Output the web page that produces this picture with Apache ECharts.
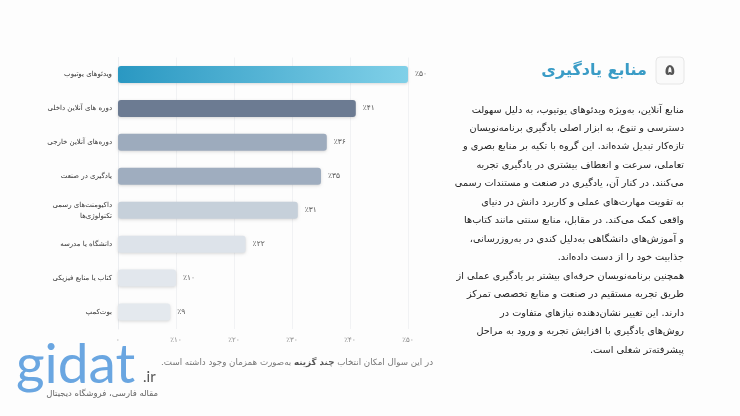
<!DOCTYPE html>
<html><head><meta charset="utf-8">
<script src="https://cdn.jsdelivr.net/npm/echarts@6/dist/echarts.min.js"></script>
<style>html,body{margin:0;padding:0;background:#fdfdfd}#c{width:740px;height:416px}</style>
</head><body><div id="c"></div>
<script>
var categories = ['ویدئوهای یوتیوب','دوره های آنلاین داخلی','دوره‌های آنلاین خارجی','یادگیری در صنعت','داکیومنت‌های رسمی\nتکنولوژی‌ها','دانشگاه یا مدرسه','کتاب یا منابع فیزیکی','بوت‌کمپ'];
var values = [50, 41, 36, 35, 31, 22, 10, 9];
var barColors = [null, '#6c7b92', '#9dabbd', '#9fadbf', '#c6d0da', '#dde3ea', '#e2e7ed', '#e4e9ee'];
var tickLabels = ['۰','٪۱۰','٪۲۰','٪۳۰','٪۴۰','٪۵۰'];
var valueLabels = ['٪۵۰','٪۴۱','٪۳۶','٪۳۵','٪۳۱','٪۲۲','٪۱۰','٪۹'];
var titleText = 'منابع یادگیری';
var sectionNumber = '۵';
var paragraphLines = [
 'منابع آنلاین، به‌ویژه ویدئوهای یوتیوب، به دلیل سهولت',
 'دسترسی و تنوع، به ابزار اصلی یادگیری برنامه‌نویسان',
 'تازه‌کار تبدیل شده‌اند. این گروه با تکیه بر منابع بصری و',
 'تعاملی، سرعت و انعطاف بیشتری در یادگیری تجربه',
 'می‌کنند. در کنار آن، یادگیری در صنعت و مستندات رسمی',
 'به تقویت مهارت‌های عملی و کاربرد دانش در دنیای',
 'واقعی کمک می‌کند. در مقابل، منابع سنتی مانند کتاب‌ها',
 'و آموزش‌های دانشگاهی به‌دلیل کندی در به‌روزرسانی،',
 'جذابیت خود را از دست داده‌اند.',
 'همچنین برنامه‌نویسان حرفه‌ای بیشتر بر یادگیری عملی از',
 'طریق تجربه مستقیم در صنعت و منابع تخصصی تمرکز',
 'دارند. این تغییر نشان‌دهنده نیازهای متفاوت در',
 'روش‌های یادگیری با افزایش تجربه و ورود به مراحل',
 'پیشرفته‌تر شغلی است.'
];
var noteParts = ['به‌صورت همزمان وجود داشته است.', 'چند گزینه', 'در این سوال امکان انتخاب'];

var RLM = '\u200F';
var FONT = '"DejaVu Sans", sans-serif';
var chart = echarts.init(document.getElementById('c'));

var barData = values.map(function(v, i){
  var color = i === 0 ? new echarts.graphic.LinearGradient(0,0,1,0,[{offset:0,color:'#2a98c2'},{offset:1,color:'#80d0e8'}]) : barColors[i];
  return {value: v, itemStyle: {color: color}};
});

var graphics = [];
graphics.push({type:'rect', shape:{x:656,y:57,width:28,height:27,r:4}, style:{fill:'#fafafa',stroke:'#e6e6e6',lineWidth:1}});
graphics.push({type:'text', style:{x:670,y:71,text:sectionNumber,font:'bold 16px '+FONT,fill:'#555',align:'center',verticalAlign:'middle'}});
graphics.push({type:'text', style:{x:647,y:71,text:RLM+titleText+RLM,font:'bold 16px '+FONT,fill:'#3a9cc6',align:'right',verticalAlign:'middle'}});
paragraphLines.forEach(function(line, i){
  graphics.push({type:'text', style:{x:684,y:110+i*18.46,text:RLM+line+RLM,font:'9.7px '+FONT,fill:'#222',align:'right',verticalAlign:'middle'}});
});
graphics.push({type:'text', style:{x:433,y:363,align:'right',verticalAlign:'middle',
  text:'{a|'+RLM+noteParts[0]+RLM+' }{b|'+noteParts[1]+'}{a| '+noteParts[2]+'}',
  rich:{a:{font:'8.7px '+FONT,fill:'#777'},b:{font:'bold 8.7px '+FONT,fill:'#555'}}}});
graphics.push({type:'text', style:{x:16,y:365,text:'gidat',font:'55px Lato, sans-serif',fill:'rgba(80,150,220,0.85)',align:'left',verticalAlign:'middle'}});
graphics.push({type:'text', style:{x:143,y:377,text:'.ir',font:'15px Lato, sans-serif',fill:'#555',align:'left',verticalAlign:'middle'}});
graphics.push({type:'text', style:{x:158,y:394,text:RLM+'مقاله فارسی، فروشگاه دیجیتال'+RLM,font:'8.5px '+FONT,fill:'#666',align:'right',verticalAlign:'middle'}});

chart.setOption({
  backgroundColor:'#fdfdfd',
  animation:false,
  grid:{left:118,right:332,top:57.5,bottom:87,containLabel:false},
  xAxis:{type:'value',min:0,max:50,interval:10,
    axisLine:{show:false},axisTick:{show:false},
    splitLine:{show:true,lineStyle:{color:'#f1f2f4',width:1}},
    axisLabel:{margin:8,fontSize:7,color:'#888',fontFamily:FONT,formatter:function(v){return tickLabels[Math.round(v/10)];}}},
  yAxis:{type:'category',data:categories,inverse:true,
    axisLine:{show:true,lineStyle:{color:'#eceef1'}},axisTick:{show:false},
    axisLabel:{margin:6,fontSize:7,color:'#333',fontFamily:FONT,lineHeight:11,align:'right',
      formatter:function(v){return v.split('\n').map(function(s){return RLM+s+RLM;}).join('\n');}}},
  series:[{type:'bar',data:barData,barWidth:17,
    itemStyle:{borderRadius:3,shadowBlur:3,shadowColor:'rgba(0,0,0,0.15)',shadowOffsetY:1},
    label:{show:true,position:'right',distance:7,fontSize:7.5,color:'#555',fontFamily:FONT,
      formatter:function(p){return valueLabels[p.dataIndex];}}}],
  graphic:graphics
});
</script></body></html>
